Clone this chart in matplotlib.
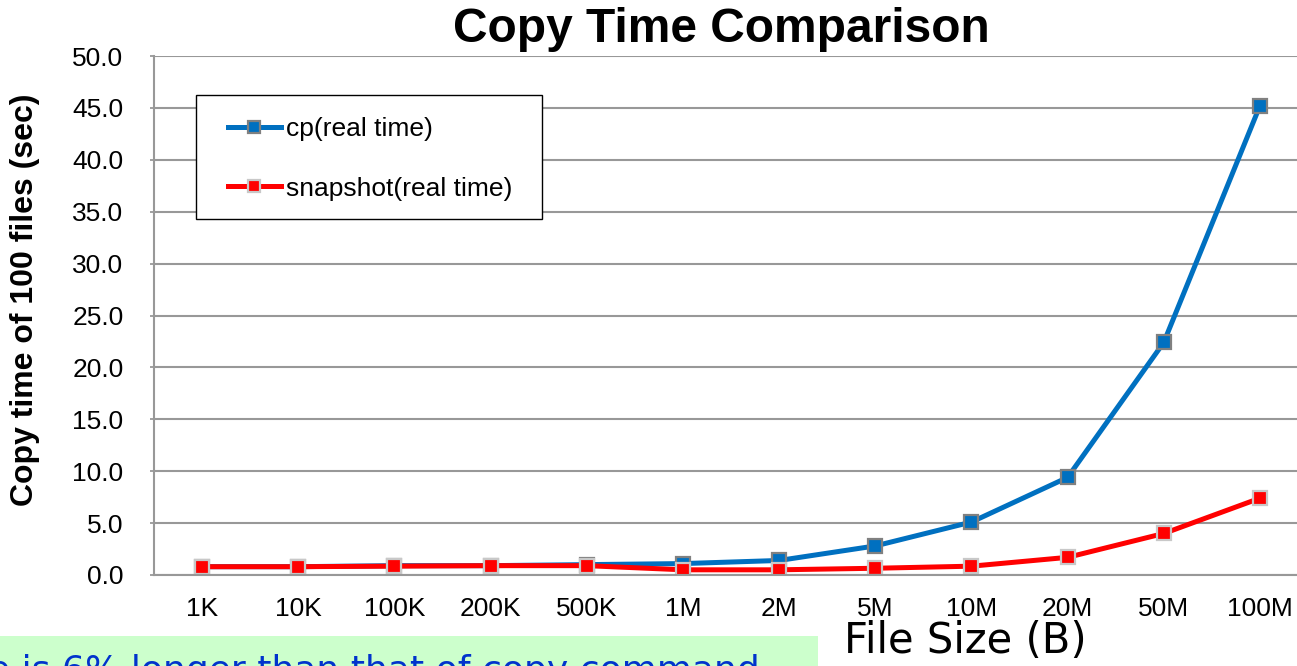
import numpy as np
import matplotlib.pyplot as plt
from matplotlib.patches import Rectangle

# file sizes and measured copy times (sec) for 100 files
sizes = ['1K', '10K', '100K', '200K', '500K', '1M', '2M', '5M', '10M', '20M', '50M', '100M']
cp_time = [0.8, 0.8, 0.9, 0.9, 1.0, 1.1, 1.4, 2.8, 5.1, 9.4, 22.4, 45.2]
snapshot_time = [0.8, 0.8, 0.85, 0.9, 0.9, 0.5, 0.5, 0.65, 0.85, 1.7, 4.0, 7.4]
yticks = np.arange(0, 50.1, 5)

W, H = 1297, 666
fig = plt.figure(figsize=(W / 100, H / 100), dpi=100)
plt.rcParams['font.family'] = ['Liberation Sans', 'DejaVu Sans']

ax = fig.add_axes([154 / W, 1 - 575 / H, 1154 / W, (575 - 56) / H])
x = np.arange(len(sizes))

ax.plot(x, cp_time, color='#0070C0', lw=3.6, marker='s', ms=9.5,
        mfc='#0070C0', mec='#808080', mew=1.6, label='cp(real time)')
ax.plot(x, snapshot_time, color='#FF0000', lw=3.6, marker='s', ms=9.5,
        mfc='#FF0000', mec='#C8C8C8', mew=1.6, label='snapshot(real time)')

ax.set_xlim(-0.5, len(sizes) - 0.5)
ax.set_ylim(0, 50)
ax.set_yticks(yticks)
ax.set_yticklabels([f'{v:.1f}' for v in yticks])
ax.set_xticks(x)
ax.set_xticklabels(sizes)
ax.tick_params(axis='y', length=3, width=1.2, color='#909090', pad=19, labelsize=19)
ax.tick_params(axis='x', length=0, pad=16, labelsize=19)

ax.grid(axis='y', color='#989898', lw=1.5)
ax.set_axisbelow(True)
for side in ['top', 'right']:
    ax.spines[side].set_visible(False)
ax.spines['left'].set_color('#989898')
ax.spines['left'].set_linewidth(1.5)
ax.spines['bottom'].set_color('#989898')
ax.spines['bottom'].set_linewidth(1.5)

# legend box drawn separately so its size can be set directly
box = Rectangle((196 / W, 1 - 219 / H), 346 / W, 124 / H, transform=fig.transFigure,
                facecolor='white', edgecolor='black', lw=1.0, zorder=4, clip_on=False)
ax.add_patch(box)
leg = ax.legend(loc='upper left', bbox_to_anchor=(228 / W, 1 - 117 / H),
                bbox_transform=fig.transFigure, fontsize=19, frameon=False,
                borderaxespad=0, borderpad=0,
                handlelength=2.0, handletextpad=0.2, labelspacing=1.35,
                markerscale=0.85)
leg.set_zorder(5)

fig.text(721 / W, 1 - 30 / H, 'Copy Time Comparison', ha='center', va='center',
         fontsize=34.5, fontweight='bold')
fig.text(25 / W, 1 - 300 / H, 'Copy time of 100 files (sec)', rotation=90,
         ha='center', va='center', fontsize=23, fontweight='bold')
fig.text(965 / W, 1 - 641 / H, 'File Size (B)', ha='center', va='center',
         fontsize=30, family='DejaVu Sans')

# note box along the bottom edge
fig.patches.append(Rectangle((0, 0), 818 / W, 30 / H, transform=fig.transFigure,
                             facecolor='#CCFFCC', edgecolor='none', zorder=0))
fig.text(-12 / W, -15 / H, 'e is 6% longer than that of copy command',
         ha='left', va='baseline', fontsize=26, color='#0033CC',
         family='DejaVu Sans')

fig.savefig('out.png', dpi=100)
